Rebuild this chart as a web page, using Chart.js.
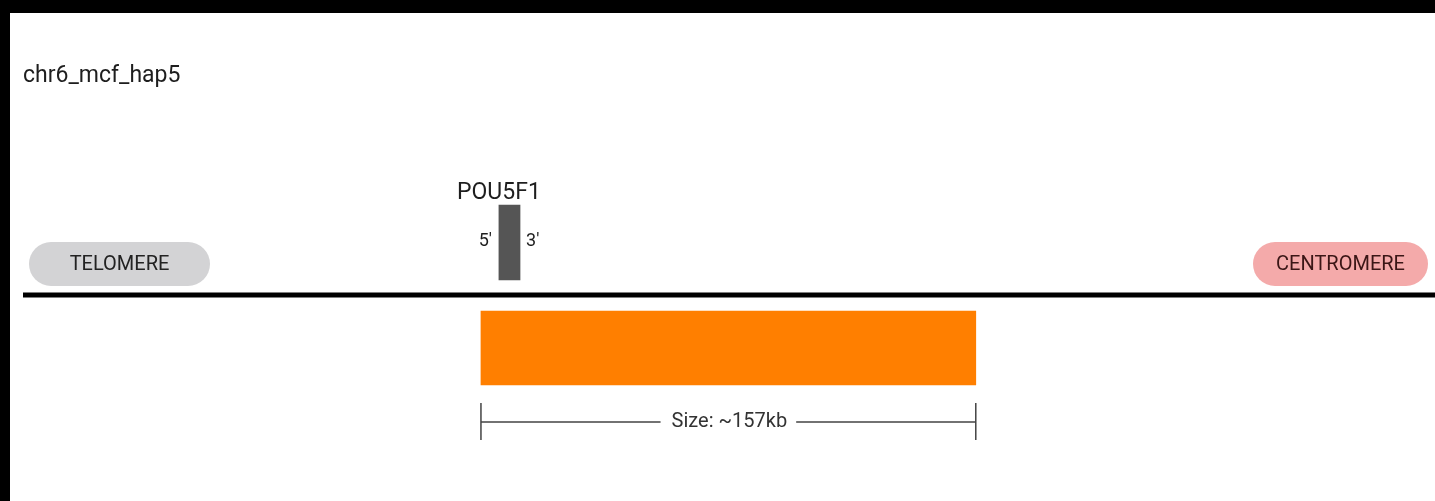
<!DOCTYPE html>
<html>
<head>
<meta charset="utf-8">
<script src="https://cdn.jsdelivr.net/npm/chart.js@4.4.1/dist/chart.umd.min.js"></script>
<style>
  html, body { margin: 0; padding: 0; background: #000; overflow: hidden; }
  #wrap { position: absolute; left: 10px; top: 13px; width: 1425px; height: 488px; background: #fff; }
</style>
</head>
<body>
<div id="wrap"><canvas id="chart"></canvas></div>
<script>
// haplotype data, positions in kb from the telomere end
const chromName = 'chr6_mcf_hap5'
const axisRange = [0, 448]
const geneNames = ['POU5F1']
const geneStarts = [151]
const geneEnds = [157.7]
const regionStarts = [145.3]
const regionEnds = [302.3]
const sizeLabels = ['Size: ~157kb']
const endLabels = ['TELOMERE', 'CENTROMERE']

// track rows (y units = canvas px, top down)
const lanes = { title: 63, gene: 229.5, ends: 251, chrom: 282, region: 335, size: 409 }

const FONT = 'Roboto, "Noto Sans", sans-serif'

const annotations = {
  id: 'annotations',
  afterDatasetsDraw(chart) {
    const { ctx, chartArea, scales } = chart
    const x = scales.x
    const y = scales.y
    ctx.save()

    // title
    ctx.fillStyle = '#1e1e1e'
    ctx.font = `23px ${FONT}`
    ctx.textAlign = 'left'
    ctx.textBaseline = 'middle'
    ctx.fillText(chromName, chartArea.left, y.getPixelForValue(lanes.title))

    // end pills
    const pillY = y.getPixelForValue(lanes.ends)
    const pills = [
      { text: endLabels[0], left: chartArea.left + 6, width: 181, fill: '#d3d3d5', color: '#222' },
      { text: endLabels[1], left: chartArea.right - 182, width: 175, fill: '#f4aaaa', color: '#3b1616' }
    ]
    pills.forEach(p => {
      ctx.fillStyle = p.fill
      ctx.beginPath()
      ctx.roundRect(p.left, pillY - 22, p.width, 44, 22)
      ctx.fill()
      ctx.fillStyle = p.color
      ctx.font = `20px ${FONT}`
      ctx.textAlign = 'center'
      ctx.fillText(p.text, p.left + p.width / 2, pillY + 1)
    })

    // gene labels
    geneNames.forEach((name, i) => {
      const gx0 = x.getPixelForValue(geneStarts[i])
      const gx1 = x.getPixelForValue(geneEnds[i])
      const gy = y.getPixelForValue(lanes.gene)
      ctx.fillStyle = '#1e1e1e'
      ctx.font = `23px ${FONT}`
      ctx.textAlign = 'center'
      ctx.fillText(name, gx0, gy - 49)
      ctx.font = `18px ${FONT}`
      ctx.textAlign = 'right'
      ctx.fillText("5'", gx0 - 7, gy - 1)
      ctx.textAlign = 'left'
      ctx.fillText("3'", gx1 + 6, gy - 1)
    })

    // size bracket under each region
    regionStarts.forEach((s, i) => {
      const x0 = x.getPixelForValue(s)
      const x1 = x.getPixelForValue(regionEnds[i])
      const by = y.getPixelForValue(lanes.size)
      const mid = (x0 + x1) / 2
      ctx.font = `20px ${FONT}`
      const tw = ctx.measureText(sizeLabels[i]).width
      ctx.strokeStyle = '#444'
      ctx.lineWidth = 1.5
      ctx.beginPath()
      ctx.moveTo(x0, by); ctx.lineTo(mid - tw / 2 - 10, by)
      ctx.moveTo(mid + tw / 2 + 10, by); ctx.lineTo(x1, by)
      ctx.moveTo(x0, by - 19); ctx.lineTo(x0, by + 18)
      ctx.moveTo(x1, by - 19); ctx.lineTo(x1, by + 18)
      ctx.stroke()
      ctx.fillStyle = '#333'
      ctx.textAlign = 'center'
      ctx.fillText(sizeLabels[i], mid + 1, by)
    })

    ctx.restore()
  }
}

new Chart(document.getElementById('chart'), {
  data: {
    datasets: [
      {
        type: 'line',
        data: [{ x: axisRange[0], y: lanes.chrom }, { x: axisRange[1], y: lanes.chrom }],
        borderColor: '#000',
        borderWidth: 5,
        pointRadius: 0,
        order: 3
      },
      {
        type: 'bar',
        indexAxis: 'y',
        stack: 'track',
        data: geneStarts.map((s, i) => ({ x: [s, geneEnds[i]], y: lanes.gene })),
        backgroundColor: '#555555',
        barThickness: 75,
        order: 1
      },
      {
        type: 'bar',
        indexAxis: 'y',
        stack: 'track',
        data: regionStarts.map((s, i) => ({ x: [s, regionEnds[i]], y: lanes.region })),
        backgroundColor: '#ff7f00',
        barThickness: 74,
        order: 2
      }
    ]
  },
  options: {
    responsive: true,
    maintainAspectRatio: false,
    animation: false,
    events: [],
    layout: { padding: { left: 13, right: 0, top: 0, bottom: 0 } },
    plugins: { legend: { display: false }, tooltip: { enabled: false } },
    scales: {
      x: { type: 'linear', min: axisRange[0], max: axisRange[1], stacked: false, offset: false, display: false },
      y: { type: 'linear', min: 0, max: 488, reverse: true, offset: false, display: false }
    }
  },
  plugins: [annotations]
})
</script>
</body>
</html>
